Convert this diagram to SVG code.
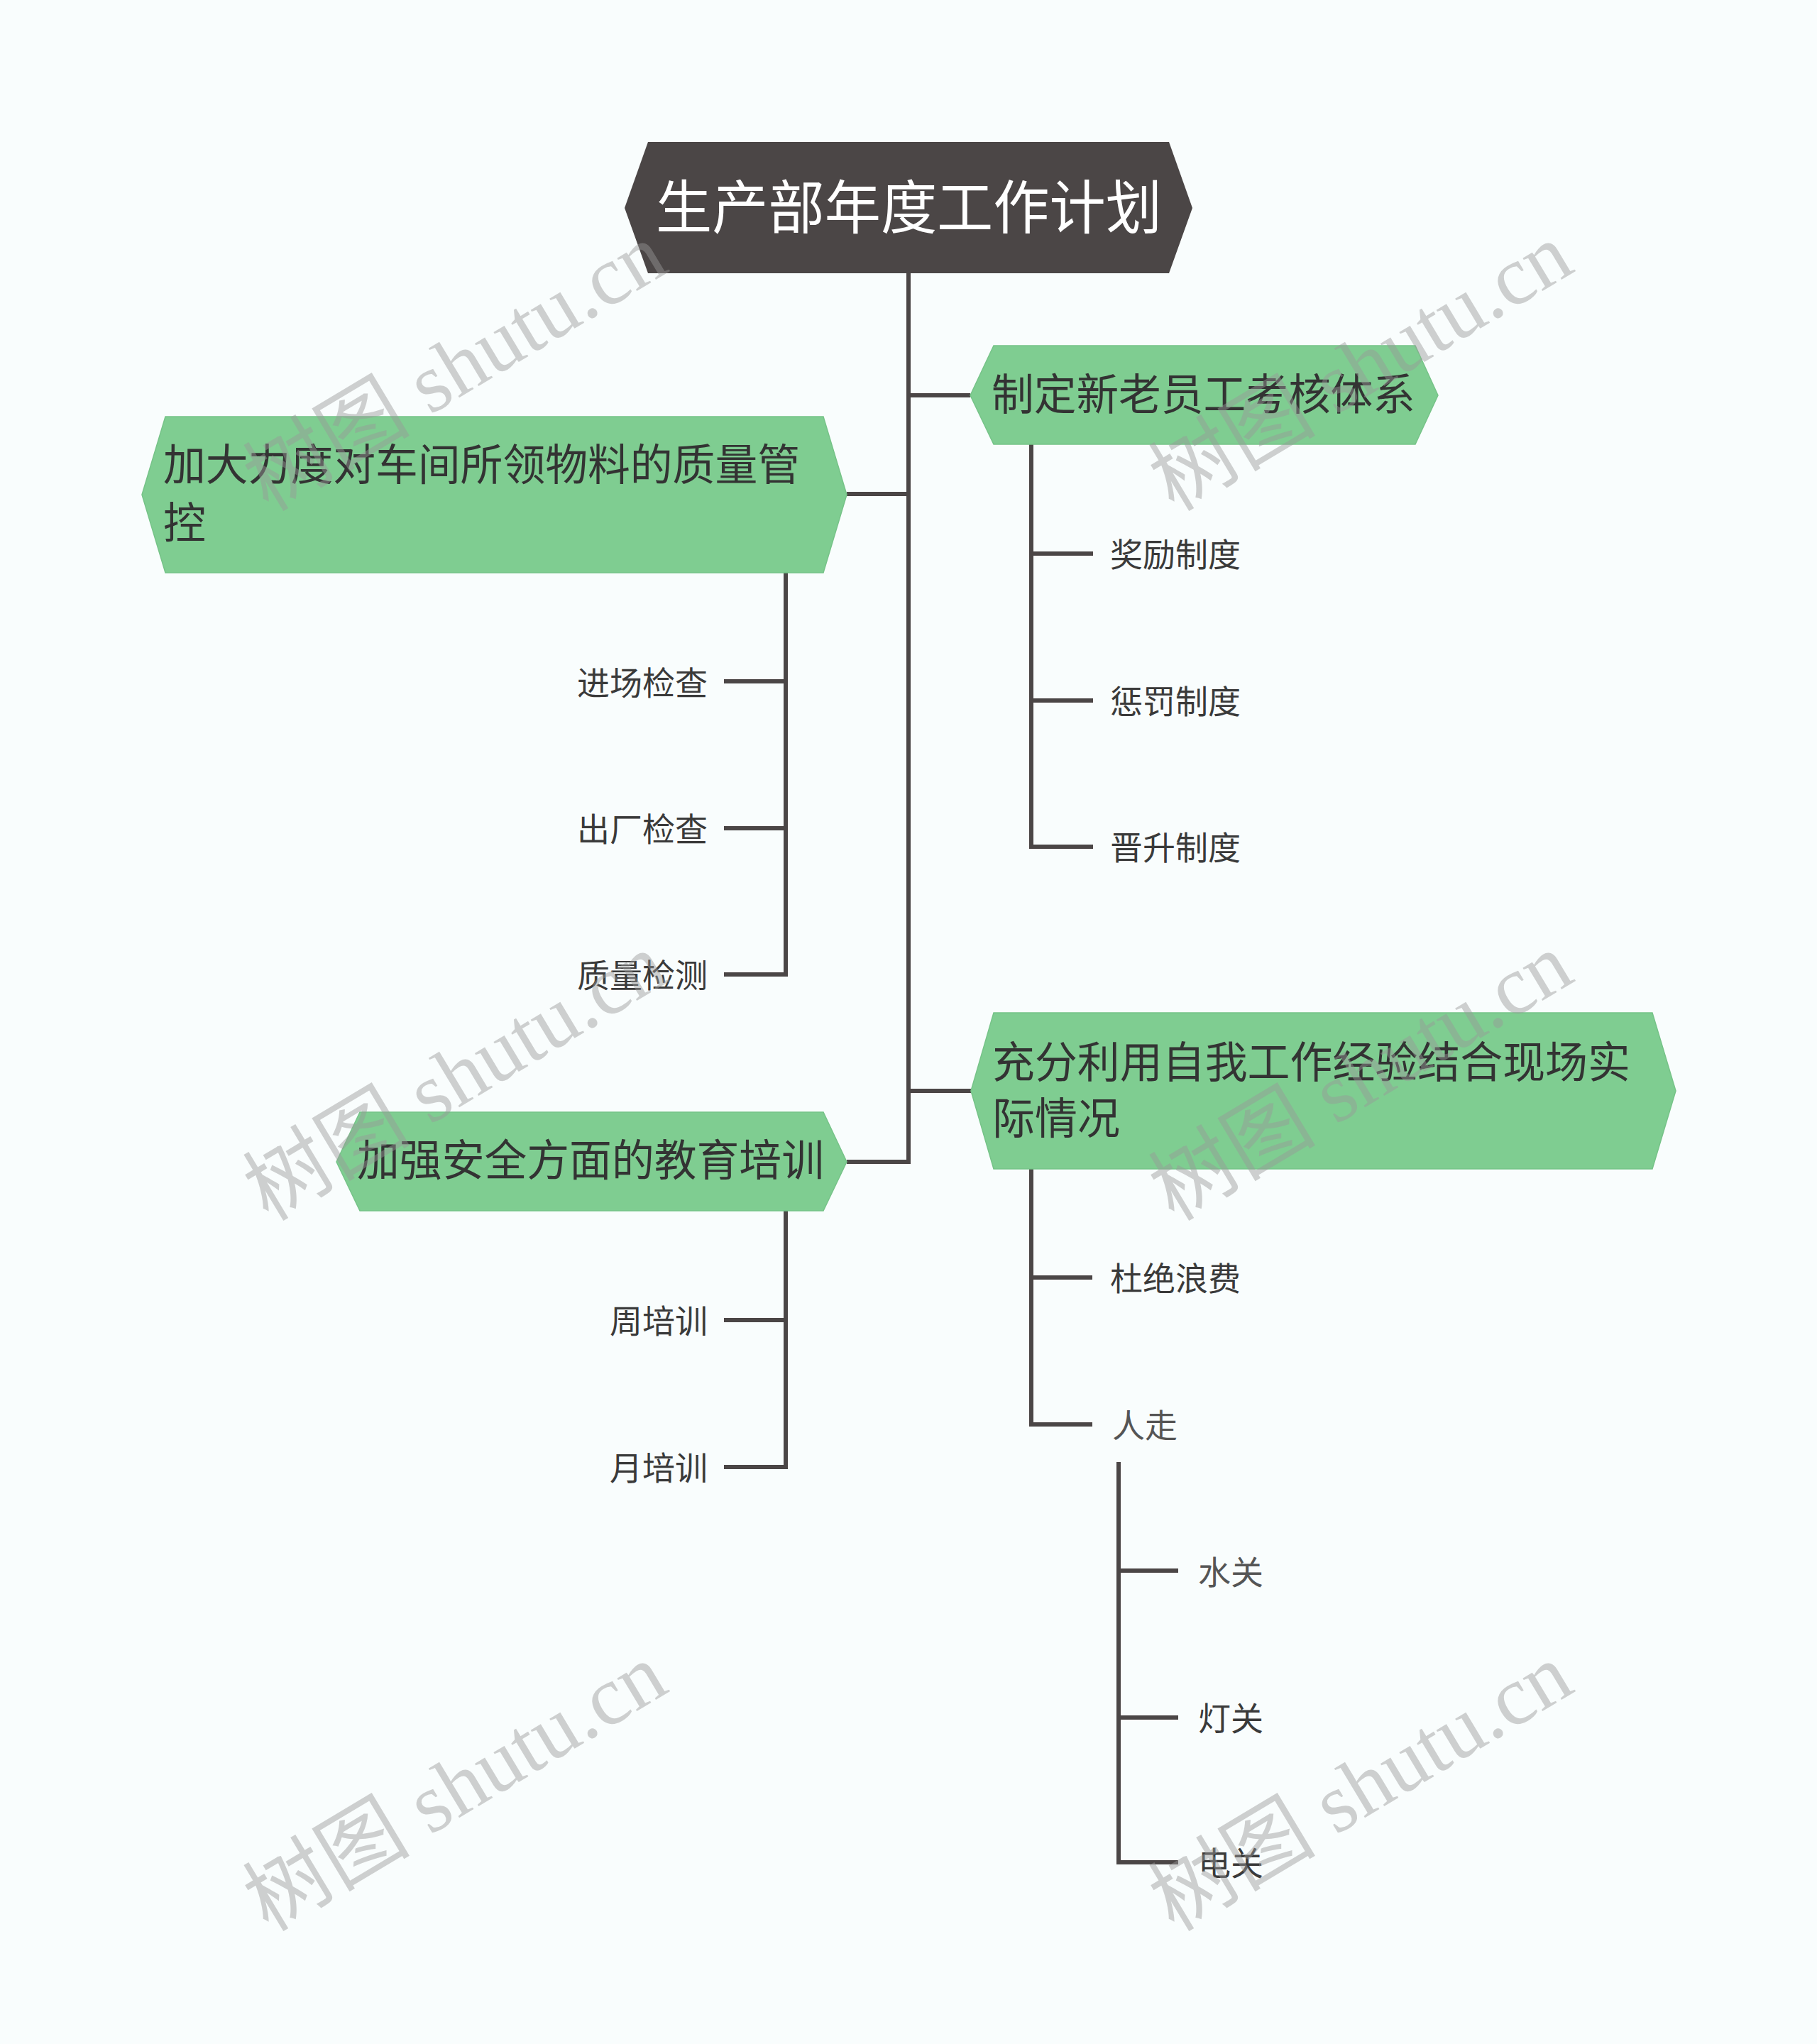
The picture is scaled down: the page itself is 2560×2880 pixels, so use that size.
<svg xmlns="http://www.w3.org/2000/svg" width="2560" height="2880" viewBox="0 0 2560 2880">
<style>
.bg{fill:#f9fdfd}
.hex{fill:#7fcd91;stroke:#76c388;stroke-width:1.5}
.root{fill:#4b4646}
.lk{fill:none;stroke:#4b4646;stroke-width:6;stroke-linejoin:miter;stroke-linecap:butt}
.nt{font-family:"Noto Sans CJK SC","Noto Sans",sans-serif;font-size:61px;fill:#333333}
.rt{font-family:"Noto Sans CJK SC","Noto Sans",sans-serif;font-size:82px;fill:#ffffff}
.lt{font-family:"Noto Sans CJK SC","Noto Sans",sans-serif;font-size:46px;fill:#3a3a3a}
.lt2{font-family:"Noto Sans CJK SC","Noto Sans",sans-serif;font-size:46px;fill:#555555}
.wm{font-family:"Liberation Serif","Noto Sans CJK SC",serif;font-size:118px;fill:#999999;opacity:0.45}
</style>
<rect class="bg" x="0" y="0" width="2560" height="2880"/>

<g id="connectors">
<path class="lk" d="M1280 385 V1637 H1193"/>
<path class="lk" d="M1280 557 H1367"/>
<path class="lk" d="M1280 696 H1193"/>
<path class="lk" d="M1280 1537 H1368"/>
<path class="lk" d="M1453 626 V1193 H1540"/>
<path class="lk" d="M1453 780 H1540"/>
<path class="lk" d="M1453 987 H1540"/>
<path class="lk" d="M1107 807 V1373 H1020"/>
<path class="lk" d="M1107 960 H1020"/>
<path class="lk" d="M1107 1167 H1020"/>
<path class="lk" d="M1107 1706 V2067 H1020"/>
<path class="lk" d="M1107 1860 H1020"/>
<path class="lk" d="M1453 1647 V2007 H1539"/>
<path class="lk" d="M1453 1800 H1539"/>
<path class="lk" d="M1576 2060 V2624 H1660"/>
<path class="lk" d="M1576 2213 H1660"/>
<path class="lk" d="M1576 2420 H1660"/>
</g>

<g id="root">
<polygon class="root" points="880,293 913,200 1647,200 1680,293 1647,385 913,385"/>
<text class="rt" x="924" y="322" textLength="713" lengthAdjust="spacingAndGlyphs">生产部年度工作计划</text>
</g>

<g id="node-a">
<polygon class="hex" points="1367,557 1400,487 1994,487 2026,557 1994,626 1400,626"/>
<text class="nt" x="1397" y="578" textLength="597" lengthAdjust="spacingAndGlyphs">制定新老员工考核体系</text>
</g>
<g id="a1"><text class="lt" x="1564" y="798">奖励制度</text></g>
<g id="a2"><text class="lt" x="1564" y="1005">惩罚制度</text></g>
<g id="a3"><text class="lt" x="1564" y="1211">晋升制度</text></g>

<g id="node-b">
<polygon class="hex" points="200,697 233,587 1160,587 1193,697 1160,807 233,807"/>
<text class="nt" x="230" y="677" textLength="897" lengthAdjust="spacingAndGlyphs">加大力度对车间所领物料的质量管</text>
<text class="nt" x="230" y="759" textLength="60" lengthAdjust="spacingAndGlyphs">控</text>
</g>
<g id="b1"><text class="lt" x="997" y="979" text-anchor="end">进场检查</text></g>
<g id="b2"><text class="lt" x="997" y="1185" text-anchor="end">出厂检查</text></g>
<g id="b3"><text class="lt" x="997" y="1391" text-anchor="end">质量检测</text></g>

<g id="node-c">
<polygon class="hex" points="474,1637 507,1567 1160,1567 1193,1637 1160,1706 507,1706"/>
<text class="nt" x="503" y="1657" textLength="658" lengthAdjust="spacingAndGlyphs">加强安全方面的教育培训</text>
</g>
<g id="c1"><text class="lt" x="997" y="1878" text-anchor="end">周培训</text></g>
<g id="c2"><text class="lt" x="997" y="2085" text-anchor="end">月培训</text></g>

<g id="node-d">
<polygon class="hex" points="1368,1537 1400,1427 2328,1427 2361,1537 2328,1647 1400,1647"/>
<text class="nt" x="1398" y="1519" textLength="899" lengthAdjust="spacingAndGlyphs">充分利用自我工作经验结合现场实</text>
<text class="nt" x="1398" y="1598" textLength="180" lengthAdjust="spacingAndGlyphs">际情况</text>
</g>
<g id="d1"><text class="lt" x="1564" y="1818">杜绝浪费</text></g>
<g id="d2"><text class="lt2" x="1567" y="2025">人走</text></g>
<g id="d2a"><text class="lt2" x="1688" y="2232">水关</text></g>
<g id="d2b"><text class="lt" x="1688" y="2438">灯关</text></g>
<g id="d2c"><text class="lt" x="1688" y="2642">电关</text></g>

<g id="watermarks">
<text class="wm" transform="translate(378,722) rotate(-31)">树图 shutu.cn</text>
<text class="wm" transform="translate(1654,722) rotate(-31)">树图 shutu.cn</text>
<text class="wm" transform="translate(378,1722) rotate(-31)">树图 shutu.cn</text>
<text class="wm" transform="translate(1654,1722) rotate(-31)">树图 shutu.cn</text>
<text class="wm" transform="translate(378,2723) rotate(-31)">树图 shutu.cn</text>
<text class="wm" transform="translate(1654,2723) rotate(-31)">树图 shutu.cn</text>
</g>
</svg>
